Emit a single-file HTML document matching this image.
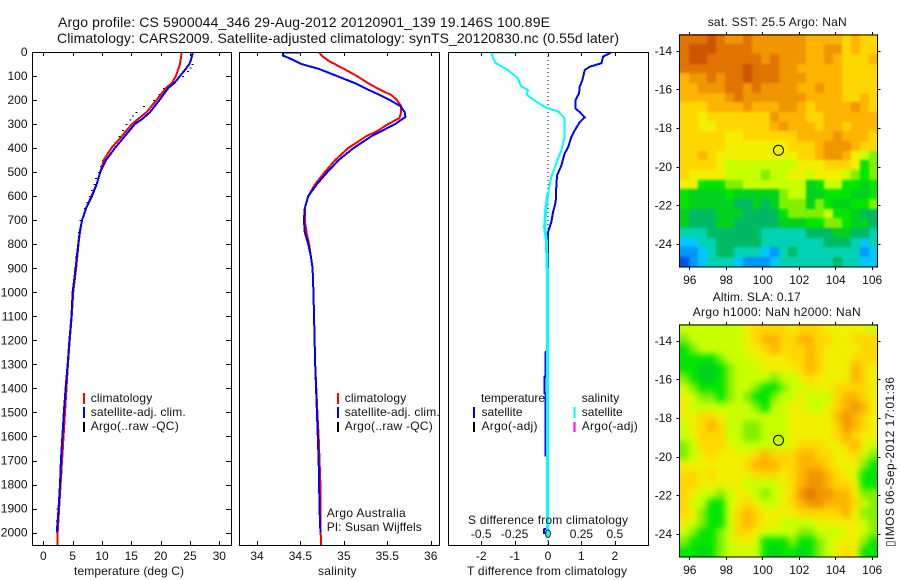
<!DOCTYPE html>
<html>
<head>
<meta charset="utf-8">
<style>
html,body{margin:0;padding:0;background:#fff;}
svg{display:block;}
text{font-family:"Liberation Sans",sans-serif;font-size:12px;fill:#111;}
.big{font-size:14px;}
</style>
</head>
<body>
<svg id="chart" xmlns="http://www.w3.org/2000/svg" width="900" height="580" viewBox="0 0 900 580">
  <rect x="0" y="0" width="900" height="580" fill="#fff"/>
  <defs>
    <clipPath id="clip1"><rect x="32" y="52" width="200" height="494"/></clipPath>
    <clipPath id="clip2"><rect x="239" y="52" width="201" height="494"/></clipPath>
    <clipPath id="clip3"><rect x="448" y="52" width="201" height="494"/></clipPath>
    <clipPath id="clip-sst"><rect x="679" y="34" width="199" height="233"/></clipPath>
    <clipPath id="clip-sla"><rect x="679" y="324" width="199" height="233"/></clipPath>
    <filter id="soft-sst" x="-10%" y="-10%" width="120%" height="120%" color-interpolation-filters="sRGB"><feGaussianBlur stdDeviation="1.4"/></filter>
    <filter id="soft-sla" x="-10%" y="-10%" width="120%" height="120%" color-interpolation-filters="sRGB"><feGaussianBlur stdDeviation="3.2"/></filter>
  </defs>

  <text class="big" x="58" y="27" textLength="492" lengthAdjust="spacing">Argo profile: CS 5900044_346 29-Aug-2012 20120901_139 19.146S 100.89E</text>
  <text class="big" x="57" y="43" textLength="562" lengthAdjust="spacing">Climatology: CARS2009. Satellite-adjusted climatology: synTS_20120830.nc (0.55d later)</text>

  <g id="marks"></g>
  <g id="axes"></g>
  <g id="maps"></g>

  <text x="74" y="575" textLength="110" lengthAdjust="spacing">temperature (deg C)</text>
  <text x="318" y="575" textLength="38.5" lengthAdjust="spacing">salinity</text>
  <text x="467" y="575" textLength="160" lengthAdjust="spacing">T difference from climatology</text>
  <text x="468" y="524" textLength="160" lengthAdjust="spacing">S difference from climatology</text>

  <g>
    <rect x="83" y="393" width="2" height="11" fill="#f00"/>
    <rect x="83" y="407" width="2" height="11" fill="#00f"/>
    <rect x="83" y="422" width="2" height="10" fill="#000"/>
    <text x="90.7" y="402" textLength="61.5" lengthAdjust="spacing">climatology</text>
    <text x="90.7" y="416" textLength="95" lengthAdjust="spacing">satellite-adj. clim.</text>
    <text x="90.7" y="430" textLength="88" lengthAdjust="spacing">Argo(..raw -QC)</text>
  </g>
  <g>
    <rect x="337" y="393" width="2" height="11" fill="#f00"/>
    <rect x="337" y="407" width="2" height="11" fill="#00f"/>
    <rect x="337" y="422" width="2" height="10" fill="#000"/>
    <text x="344.7" y="402" textLength="61.5" lengthAdjust="spacing">climatology</text>
    <text x="344.7" y="416" textLength="95" lengthAdjust="spacing">satellite-adj. clim.</text>
    <text x="344.7" y="430" textLength="88" lengthAdjust="spacing">Argo(..raw -QC)</text>
  </g>
  <text x="326.7" y="517" textLength="79" lengthAdjust="spacing">Argo Australia</text>
  <text x="326.7" y="531" textLength="95" lengthAdjust="spacing">PI: Susan Wijffels</text>

  <g>
    <text x="481" y="402" textLength="64" lengthAdjust="spacing">temperature</text>
    <rect x="473" y="407" width="2" height="11" fill="#00f"/>
    <rect x="473" y="422" width="2" height="10" fill="#000"/>
    <text x="481.5" y="416" textLength="41" lengthAdjust="spacing">satellite</text>
    <text x="481.5" y="430" textLength="56" lengthAdjust="spacing">Argo(-adj)</text>
    <text x="581.7" y="402" textLength="37.5" lengthAdjust="spacing">salinity</text>
    <rect x="573.5" y="407" width="2" height="11" fill="#0ff"/>
    <rect x="573.5" y="422" width="2" height="10" fill="#f0f"/>
    <text x="581.7" y="416" textLength="41" lengthAdjust="spacing">satellite</text>
    <text x="581.7" y="430" textLength="56" lengthAdjust="spacing">Argo(-adj)</text>
  </g>

  <text x="707.7" y="26" textLength="139" lengthAdjust="spacing">sat. SST: 25.5 Argo: NaN</text>
  <text x="712.7" y="301" textLength="88" lengthAdjust="spacing">Altim. SLA: 0.17</text>
  <text x="692.7" y="316" textLength="168" lengthAdjust="spacing">Argo h1000: NaN h2000: NaN</text>
  <text transform="translate(894,547) rotate(-90)" textLength="170" lengthAdjust="spacing">▯IMOS 06-Sep-2012 17:01:36</text>
</svg>
<script>
// ---------- profile data (depth in m) ----------
const climTempDepth = [0,50,100,130,150,200,250,300,350,400,450,500,550,600,650,700,750,800,900,1000,1100,1200,1300,1400,1500,1600,1700,1800,1900,2000,2055];
const climTemp = [23.6,23.3,22.6,21.9,20.9,19.3,17.6,15.1,13.4,11.6,10.3,9.7,9.1,8.2,7.3,6.6,6.25,6.0,5.6,5.1,4.85,4.5,4.2,3.95,3.7,3.45,3.2,2.95,2.7,2.45,2.45];
const satTempDepth = [0,30,50,70,100,130,150,200,250,280,300,350,400,450,500,550,600,650,700,750,800,900,1000,1100,1200,1300,1400,1500,1600,1700,1800,1900,2000];
const satTemp = [25.5,25.2,24.9,24.3,23.3,22.3,21.3,19.8,18.2,16.8,15.6,13.9,12.2,10.7,9.7,9.1,8.3,7.3,6.6,6.2,5.95,5.5,5.0,4.8,4.45,4.15,3.8,3.5,3.25,3.0,2.85,2.6,2.3];
const argoDepth = [50,65,80,100,150,175,200,225,250,265,280,300,325,350,375,400,425,450,475,500,525,550,575,600,625,650,700,750,800,850,900,950,1000,1100,1850,1900,1950];
const argoTemp = [25.4,25.1,24.7,23.8,20.6,19.8,18.9,17.2,15.9,15.3,14.9,14.2,13.6,13,12.3,11.6,10.9,10.2,9.8,9.5,9,8.7,8.3,8,7.5,7.1,6.3,6.1,5.9,5.6,5.4,5.2,5.0,4.8,2.75,2.45,2.3];
const climSalDepth = [0,20,40,70,100,130,150,180,200,225,250,275,300,330,350,400,450,500,550,600,650,700,750,800,850,900,1000,1300,1500,1600,1800,2055];
const climSal = [34.71,34.76,34.84,35.0,35.15,35.28,35.38,35.55,35.61,35.66,35.66,35.64,35.51,35.38,35.26,35.05,34.9,34.78,34.67,34.59,34.55,34.55,34.57,34.6,34.62,34.64,34.65,34.67,34.695,34.71,34.73,34.735];
const satSalDepth = [0,3,15,30,50,70,100,130,150,180,200,225,250,270,300,350,400,450,500,550,600,650,700,750,800,850,900,1000,1300,1500,1700,1900,2000];
const satSal = [34.61,34.3,34.3,34.4,34.51,34.71,34.92,35.13,35.24,35.42,35.53,35.65,35.7,35.71,35.59,35.32,35.11,34.94,34.81,34.69,34.59,34.55,34.54,34.55,34.59,34.62,34.64,34.65,34.67,34.69,34.71,34.72,34.73];
const diffTempDepth = [0,5,19,47,61,75,117,144,172,200,236,250,272,292,319,353,397,422,472,514,556,625,667,708,750,1240,1250,1350,1351,1420,1421,1680,1681,1985,1986,2005];
const diffTemp = [1.85,1.85,1.65,1.6,1.25,1.1,1.03,0.95,0.93,0.83,0.83,0.95,1.1,0.95,0.83,0.7,0.6,0.5,0.4,0.27,0.25,0.23,0.15,0.1,0,0,-0.08,-0.08,-0.1,-0.1,-0.08,-0.08,0,0,-0.12,-0.12];
const diffSalDepth = [0,3,26,47,75,110,144,158,178,206,233,247,276,353,408,464,519,589,658,728,783,908,2020];
const diffSal = [-0.1,-0.425,-0.41,-0.39,-0.3,-0.225,-0.2,-0.15,-0.16,-0.09,-0.01,0.075,0.125,0.125,0.1,0.0625,0.025,0,-0.0175,-0.025,-0.0125,-0.005,-0.005];

// ---------- tick labels ----------
const depthTicks = [0,100,200,300,400,500,600,700,800,900,1000,1100,1200,1300,1400,1500,1600,1700,1800,1900,2000];
const tempTicks = [0,5,10,15,20,25,30];
const salTicks = [34,34.5,35,35.5,36];
const diffTTicks = [-2,-1,0,1,2];
const diffSTicks = [-0.5,-0.25,0,0.25,0.5];
const lonTicks = [96,98,100,102,104,106];
const latTicks = [-14,-16,-18,-20,-22,-24];
const argoLon = 100.89;
const argoLat = -19.146;

// ---------- map grids (colour-level units, 22 columns by 24 rows, north to south) ----------
const sstGrid = [
[13,13,13,14,13,12,12,13,12,12,12,12,12,12,11,11,11,11,10,11,10,10],
[13,14,14,14,13,13,13,13,12,12,12,12,12,12,11,11,12,12,10,11,10,10],
[13,14,14,13,13,13,13,13,13,12,13,12,12,12,11,11,12,11,10,10,10,11],
[13,13,13,13,13,13,13,14,13,13,13,12,12,11,11,11,11,11,10,10,10,10],
[11,12,12,13,12,13,13,14,13,13,13,12,12,12,11,11,11,11,10,10,10,10],
[11,11,12,12,12,13,13,12,13,12,12,12,12,11,11,12,11,11,10,10,10,10],
[11,11,11,11,11,12,13,12,12,12,12,12,12,12,11,11,11,11,10,10,11,10],
[10,10,10,11,11,11,11,12,11,11,11,12,12,11,10,11,11,11,11,12,11,10],
[10,10,9,10,10,10,10,10,10,10,12,11,11,11,10,10,11,11,11,11,11,11],
[10,10,9,9,10,10,10,10,10,10,11,12,11,11,11,10,11,11,10,11,11,11],
[10,10,10,10,10,9,9,10,10,10,10,10,10,11,11,11,11,12,11,11,11,10],
[10,10,10,10,10,9,9,9,9,9,9,9,10,10,10,11,12,12,12,11,10,10],
[10,10,11,10,9,9,9,9,9,9,9,9,9,10,10,11,12,12,11,9,8,7],
[10,10,10,10,9,8,8,8,8,8,8,8,8,9,9,9,10,10,10,9,6,7],
[10,9,9,9,9,8,8,8,8,7,8,8,9,9,8,9,9,9,8,7,6,7],
[9,9,6,6,6,7,7,8,8,8,8,8,8,8,5,6,8,8,6,6,5,6],
[6,5,5,5,5,6,5,5,5,5,5,7,8,8,5,5,6,6,6,5,5,6],
[6,5,5,5,5,5,4,4,5,4,5,7,7,7,5,7,6,5,5,6,6,7],
[5,4,4,4,5,5,5,4,4,4,4,6,7,7,7,7,8,6,6,5,4,4],
[5,4,4,4,5,5,4,4,4,4,4,5,5,5,6,6,7,7,6,5,5,4],
[3,3,3,4,4,4,4,4,4,3,3,3,3,3,4,4,4,5,5,4,4,3],
[2,2,3,3,4,4,4,4,4,3,3,3,3,3,3,3,4,4,4,3,2,3],
[1,1,2,3,4,4,3,3,3,2,1,3,4,3,3,3,3,3,3,3,1,2],
[0,1,2,3,3,3,2,1,1,1,2,3,3,3,3,3,3,4,3,3,2,2]
];
const slaGrid = [
[8,8,8,8,8,8,8,9,10,10,10,10,9,10,10,10,9,9,9,9,9,8],
[7,8,8,8,8,8,8,9,10,11,11,10,10,11,11,10,10,9,9,10,10,10],
[6,7,8,8,8,8,8,9,9,10,11,10,10,10,11,10,9,9,9,9,10,10],
[6,6,6,6,7,8,8,8,9,9,9,9,10,10,11,10,9,9,9,10,10,10],
[6,6,5,5,6,7,8,8,8,9,9,9,9,10,11,10,9,9,9,11,10,9],
[7,6,5,5,6,7,8,8,8,8,7,8,8,9,10,9,9,9,9,11,10,9],
[8,7,6,6,6,7,8,8,7,6,6,7,8,8,9,9,9,10,10,10,10,9],
[9,8,7,7,6,7,8,7,6,6,7,8,8,9,8,8,8,10,11,11,10,9],
[9,8,8,8,8,8,8,8,7,6,8,8,9,9,8,8,9,10,11,12,11,9],
[9,9,10,10,9,8,8,8,8,8,8,8,9,9,9,9,9,11,12,11,10,9],
[8,9,10,11,10,8,8,7,7,8,8,8,9,9,9,9,9,10,12,11,10,9],
[8,9,10,10,10,8,8,7,7,8,8,8,9,9,9,9,9,10,11,10,9,9],
[7,8,10,10,10,9,8,8,8,8,8,8,9,10,10,10,9,9,10,11,9,8],
[7,8,9,10,9,9,9,9,10,11,10,10,10,11,11,10,10,9,9,10,8,7],
[9,9,9,9,9,9,9,10,11,11,11,10,10,11,11,11,10,9,9,9,7,6],
[10,10,9,10,9,9,9,9,10,10,10,9,10,11,12,12,11,10,9,8,6,6],
[10,10,9,9,9,9,9,8,8,8,8,9,10,11,12,12,11,10,10,9,6,6],
[10,9,8,8,7,8,9,9,8,7,8,9,10,12,13,12,12,11,11,9,7,7],
[10,8,8,6,6,8,9,10,9,8,8,9,10,11,12,12,11,11,11,10,8,7],
[10,9,7,6,6,8,10,11,10,9,9,9,9,10,10,10,10,10,11,9,7,7],
[9,8,7,6,6,8,10,11,10,9,9,8,8,8,8,9,9,9,9,9,8,7],
[8,7,6,6,7,8,10,10,9,8,8,8,8,7,7,8,8,8,9,9,8,7],
[7,6,6,6,7,8,9,9,8,6,6,6,7,6,6,7,8,9,9,9,7,6],
[6,6,5,6,7,8,8,8,8,6,5,6,6,5,6,7,8,9,10,9,6,6]
];
const levelColors = ['#0050e6','#0096ff','#00c8ff','#00d2b4','#00b964','#00d21e','#00e600','#80f000','#c8ff00','#f0f000','#ffd700','#ffb400','#f09600','#e17300','#cd5500'];

// ---------- axis functions ----------
const yDepth = d => 52 + d * 0.2403;
const xTemp = v => 43.3 + v * 5.867;
const xSal = v => 257 + (v - 34) * 86.85;
const xDiffT = v => 548 + v * 33.4;
const xDiffS = v => 548 + v * 133.6;
const xLon = v => 689.3 + (v - 96) * 18.24;
const yLat = (v, top) => top + 16.3 + (-14 - v) * 19.33;

const NS = 'http://www.w3.org/2000/svg';
const marks = document.getElementById('marks');
const axes = document.getElementById('axes');
const mapsG = document.getElementById('maps');

function make(tag, attrs, parent) {
  const el = document.createElementNS(NS, tag);
  for (const k in attrs) el.setAttribute(k, attrs[k]);
  parent.appendChild(el);
  return el;
}
function pts(depths, vals, fx) {
  return depths.map((d, i) => fx(vals[i]).toFixed(2) + ',' + yDepth(d).toFixed(2)).join(' ');
}
function line(name, depths, vals, fx, color, width, clip) {
  const el = make('polyline', {points: pts(depths, vals, fx), fill: 'none', stroke: color, 'stroke-width': width, 'clip-path': 'url(#' + clip + ')', 'shape-rendering': 'crispEdges'}, marks);
  
  
}

// Argo raw temperature dots
argoDepth.forEach((d, i) => {
  const el = make('rect', {x: (xTemp(argoTemp[i]) - 1).toFixed(1), y: yDepth(d).toFixed(1), width: 2, height: 1, fill: '#000', 'shape-rendering': 'crispEdges'}, marks);
  
  
});
line('climatology-temperature-line', climTempDepth, climTemp, xTemp, '#f00', 2, 'clip1');
line('satellite-temperature-line', satTempDepth, satTemp, xTemp, '#00f', 2, 'clip1');
line('climatology-salinity-line', climSalDepth, climSal, xSal, '#f00', 2, 'clip2');
line('satellite-salinity-line', satSalDepth, satSal, xSal, '#00f', 2, 'clip2');

const zeroLine = make('line', {x1: xDiffT(0), x2: xDiffT(0), y1: 52, y2: 545, stroke: '#000', 'stroke-width': 1, 'stroke-dasharray': '1 3', 'shape-rendering': 'crispEdges'}, marks);


line('temperature-difference-line', diffTempDepth, diffTemp, xDiffT, '#00f', 2, 'clip3');
line('salinity-difference-line', diffSalDepth, diffSal, xDiffS, '#0ff', 2, 'clip3');
// the deep section of the salinity difference is drawn heavier in the original
const deepStart = diffSalDepth.findIndex(d => d >= 589);
line('salinity-difference-deep-line', diffSalDepth.slice(deepStart), diffSal.slice(deepStart), xDiffS, '#0ff', 3, 'clip3');

// ---------- panels and ticks ----------
function tickLine(name, x1, y1, x2, y2, parent) {
  const el = make('line', {x1: x1, y1: y1, x2: x2, y2: y2, stroke: '#000', 'stroke-width': 1, 'shape-rendering': 'crispEdges'}, parent);
  
  
}
function label(name, str, x, y, anchor, parent) {
  const el = make('text', {x: x, y: y, 'text-anchor': anchor}, parent);
  el.textContent = str;
  
  
}
function panel(name, x, w) {
  const el = make('rect', {x: x, y: 52.5, width: w, height: 493, fill: 'none', stroke: '#000', 'stroke-width': 1, 'shape-rendering': 'crispEdges'}, axes);
  
  
}
panel('temperature-panel-frame', 32.5, 199);
panel('salinity-panel-frame', 239.5, 200);
panel('difference-panel-frame', 448.5, 200);

depthTicks.forEach(d => {
  const y = Math.round(yDepth(d)) + 0.5;
  if (d > 0) {
    tickLine('depth-tick-left', 32, y, 37, y, axes);
    tickLine('depth-tick-right', 226, y, 231, y, axes);
  }
  label('depth-tick-label', String(d), 27.5, yDepth(d) + 4, 'end', axes);
});
function xTicks(prefix, values, fx, labelY, top, bottom) {
  values.forEach(v => {
    const x = Math.round(fx(v)) + 0.5;
    if (top) tickLine(prefix + '-tick-top', x, 52, x, 56, axes);
    if (bottom) tickLine(prefix + '-tick-bottom', x, 541, x, 545, axes);
    label(prefix + '-tick-label', String(v), fx(v), labelY, 'middle', axes);
  });
}
xTicks('temperature', tempTicks, xTemp, 560, true, true);
xTicks('salinity', salTicks, xSal, 560, true, true);
xTicks('t-difference', diffTTicks, xDiffT, 560, true, true);
xTicks('s-difference', diffSTicks, xDiffS, 538, false, false);

// ---------- maps ----------
function drawMap(prefix, grid, top) {
  const g = make('g', {}, mapsG);
  
  
  const clipG = make('g', {'clip-path': 'url(#clip-' + prefix + ')'}, g);
  
  
  const cells = make('g', {filter: 'url(#soft-' + prefix + ')'}, clipG);
  
  
  const left = 679.5, mapW = 198, mapH = 232;
  const rows = grid.length, cols = grid[0].length;
  const bleed = 12;
  grid.forEach((row, r) => {
    row.forEach((lv, c) => {
      const x0 = Math.round(left + c * mapW / cols) - (c === 0 ? bleed : 0);
      const x1 = Math.round(left + (c + 1) * mapW / cols) + (c === cols - 1 ? bleed : 0);
      const y0 = Math.round(top + r * mapH / rows) - (r === 0 ? bleed : 0);
      const y1 = Math.round(top + (r + 1) * mapH / rows) + (r === rows - 1 ? bleed : 0);
      const cell = make('rect', {x: x0, y: y0, width: x1 - x0, height: y1 - y0, fill: levelColors[lv], 'shape-rendering': 'crispEdges'}, cells);
      
      
    });
  });
  const frame = make('rect', {x: left, y: top + 0.5, width: mapW, height: mapH, fill: 'none', stroke: '#000', 'stroke-width': 1, 'shape-rendering': 'crispEdges'}, g);
  
  
  lonTicks.forEach(v => {
    const x = Math.round(xLon(v)) + 0.5;
    tickLine(prefix + '-lon-tick-top', x, top - 2.5, x, top + 0.5, g);
    tickLine(prefix + '-lon-tick-bottom', x, top + mapH + 0.5, x, top + mapH + 3.5, g);
    label(prefix + '-lon-label', String(v), xLon(v) + 0.5, top + 249.5, 'middle', g);
  });
  latTicks.forEach(v => {
    const y = Math.round(yLat(v, top)) + 0.5;
    tickLine(prefix + '-lat-tick-left', left - 3, y, left, y, g);
    tickLine(prefix + '-lat-tick-right', left + mapW, y, left + mapW + 3, y, g);
    label(prefix + '-lat-label', String(v), 672, yLat(v, top) + 4, 'end', g);
  });
  const dot = make('circle', {cx: xLon(argoLon), cy: yLat(argoLat, top), r: 5, fill: 'none', stroke: '#000', 'stroke-width': 1}, g);
  
  
}
drawMap('sst', sstGrid, 34.5);
drawMap('sla', slaGrid, 324.5);
</script>
</body>
</html>
